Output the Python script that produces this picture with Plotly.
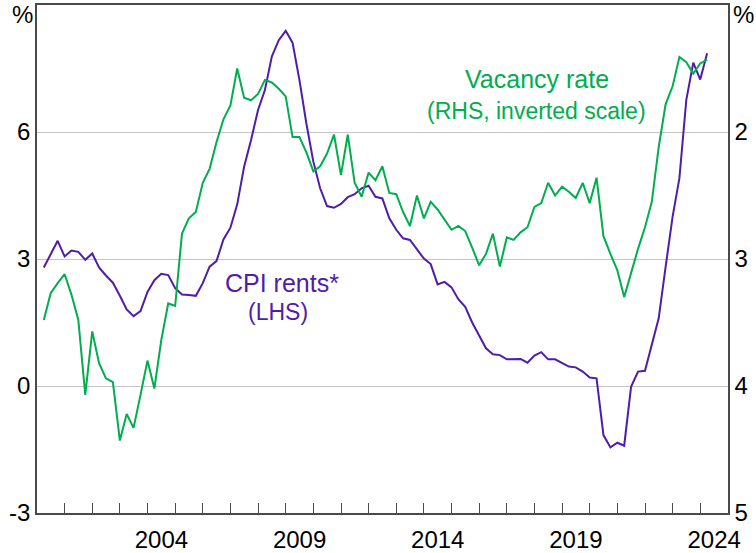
import pandas as pd
import plotly.graph_objects as go

# Quarterly observations, March quarter 2000 to March quarter 2024
quarters = pd.date_range("2000-03-31", periods=97, freq="QE")

# CPI rents, year-ended growth (%), LHS
cpi_rents = [
    2.80, 3.12, 3.43, 3.06, 3.20, 3.17, 2.98, 3.13, 2.80, 2.61,
    2.44, 2.13, 1.81, 1.65, 1.77, 2.22, 2.50, 2.65, 2.62, 2.31,
    2.16, 2.15, 2.13, 2.43, 2.82, 2.95, 3.46, 3.74, 4.29, 5.18,
    5.81, 6.52, 6.99, 7.78, 8.17, 8.39, 8.11, 7.23, 6.20, 5.30,
    4.67, 4.25, 4.21, 4.30, 4.46, 4.53, 4.67, 4.73, 4.47, 4.43,
    3.96, 3.69, 3.49, 3.45, 3.23, 3.01, 2.88, 2.40, 2.46, 2.33,
    2.05, 1.87, 1.50, 1.18, 0.89, 0.75, 0.73, 0.63, 0.63, 0.64,
    0.55, 0.72, 0.80, 0.63, 0.63, 0.55, 0.46, 0.44, 0.34, 0.20,
    0.18, -1.16, -1.45, -1.34, -1.41, -0.02, 0.34, 0.36, 1.01, 1.60,
    2.82, 4.00, 4.91, 6.76, 7.64, 7.24, 7.86,
]

# Rental vacancy rate (%), RHS inverted
vacancy_rate = [
    3.48, 3.27, 3.19, 3.12, 3.28, 3.48, 4.07, 3.57, 3.82, 3.94,
    3.97, 4.43, 4.22, 4.33, 4.07, 3.80, 4.02, 3.64, 3.35, 3.37,
    2.80, 2.68, 2.63, 2.40, 2.29, 2.08, 1.90, 1.79, 1.50, 1.73,
    1.75, 1.70, 1.59, 1.61, 1.66, 1.72, 2.04, 2.04, 2.16, 2.31,
    2.27, 2.17, 2.02, 2.34, 2.02, 2.40, 2.51, 2.32, 2.38, 2.27,
    2.48, 2.49, 2.63, 2.74, 2.50, 2.68, 2.55, 2.61, 2.69, 2.77,
    2.74, 2.78, 2.91, 3.05, 2.96, 2.80, 3.06, 2.83, 2.85, 2.79,
    2.75, 2.59, 2.56, 2.40, 2.50, 2.43, 2.47, 2.52, 2.40, 2.56,
    2.36, 2.82, 2.96, 3.09, 3.30, 3.11, 2.92, 2.75, 2.55, 2.12,
    1.78, 1.64, 1.41, 1.45, 1.54, 1.46, 1.43,
]

year_labels = ["2004", "2009", "2014", "2019", "2024"]
left_ticks = [-3, 0, 3, 6]
right_ticks = [2, 3, 4, 5]

PURPLE = "#4E1DAA"
GREEN = "#00AD4F"
AXIS = "#4a4a4a"
FONT = "Liberation Sans, Arial, sans-serif"

fig = go.Figure()
fig.add_trace(go.Scatter(x=quarters, y=cpi_rents, mode="lines",
                         line=dict(color=PURPLE, width=2), yaxis="y",
                         hoverinfo="skip"))
fig.add_trace(go.Scatter(x=quarters, y=vacancy_rate, mode="lines",
                         line=dict(color=GREEN, width=2), yaxis="y2",
                         hoverinfo="skip"))

fig.update_layout(
    width=756, height=553,
    margin=dict(l=37, r=28, t=5, b=40, autoexpand=False),
    paper_bgcolor="white", plot_bgcolor="white",
    showlegend=False,
    font=dict(family=FONT, size=24, color="black"),
    xaxis=dict(
        type="date",
        range=["2000-01-01", "2025-01-01"],
        tickmode="array",
        tickvals=[f"{y}-07-02" for y in year_labels],
        ticktext=year_labels,
        ticks="",
        showgrid=False,
        showline=True, linecolor=AXIS, linewidth=1.5, mirror=True,
        zeroline=False,
        ticklabelstandoff=4,
        automargin=False,
        minor=dict(tickmode="array",
                   tickvals=[f"{y}-01-01" for y in range(2001, 2025)],
                   ticks="inside", ticklen=10, tickwidth=1,
                   tickcolor=AXIS, showgrid=False),
    ),
    yaxis=dict(
        range=[-3, 9],
        tickmode="array", tickvals=left_ticks,
        ticktext=[str(v) for v in left_ticks],
        ticks="", showgrid=True, gridcolor="#c4c4c4", gridwidth=1.2,
        showline=True, linecolor=AXIS, linewidth=1.5,
        zeroline=False, automargin=False,
    ),
    yaxis2=dict(
        range=[5, 1], overlaying="y", side="right",
        tickmode="array", tickvals=right_ticks,
        ticktext=[str(v) for v in right_ticks],
        ticks="", showgrid=False,
        showline=True, linecolor=AXIS, linewidth=1.5,
        zeroline=False, automargin=False,
    ),
    annotations=[
        dict(text="%", xref="paper", yref="paper", x=0, y=1,
             xanchor="right", yanchor="top", xshift=-2, yshift=6,
             showarrow=False, font=dict(size=24)),
        dict(text="%", xref="paper", yref="paper", x=1, y=1,
             xanchor="left", yanchor="top", xshift=3, yshift=6,
             showarrow=False, font=dict(size=24)),
        dict(text="Vacancy rate", x="2018-01-30", y=1.584, xref="x", yref="y2",
             showarrow=False, font=dict(size=25, color=GREEN)),
        dict(text="(RHS, inverted scale)", x="2018-01-30", y=1.835,
             xref="x", yref="y2",
             showarrow=False, font=dict(size=23, color=GREEN)),
        dict(text="CPI rents*", x="2008-11-10", y=2.424, xref="x", yref="y",
             showarrow=False, font=dict(size=25, color=PURPLE)),
        dict(text="(LHS)", x="2008-09-25", y=1.741, xref="x", yref="y",
             showarrow=False, font=dict(size=23, color=PURPLE)),
    ],
)

fig.write_html("out.html",
               config={"displayModeBar": False},
               post_script="document.body.style.margin='0';")
